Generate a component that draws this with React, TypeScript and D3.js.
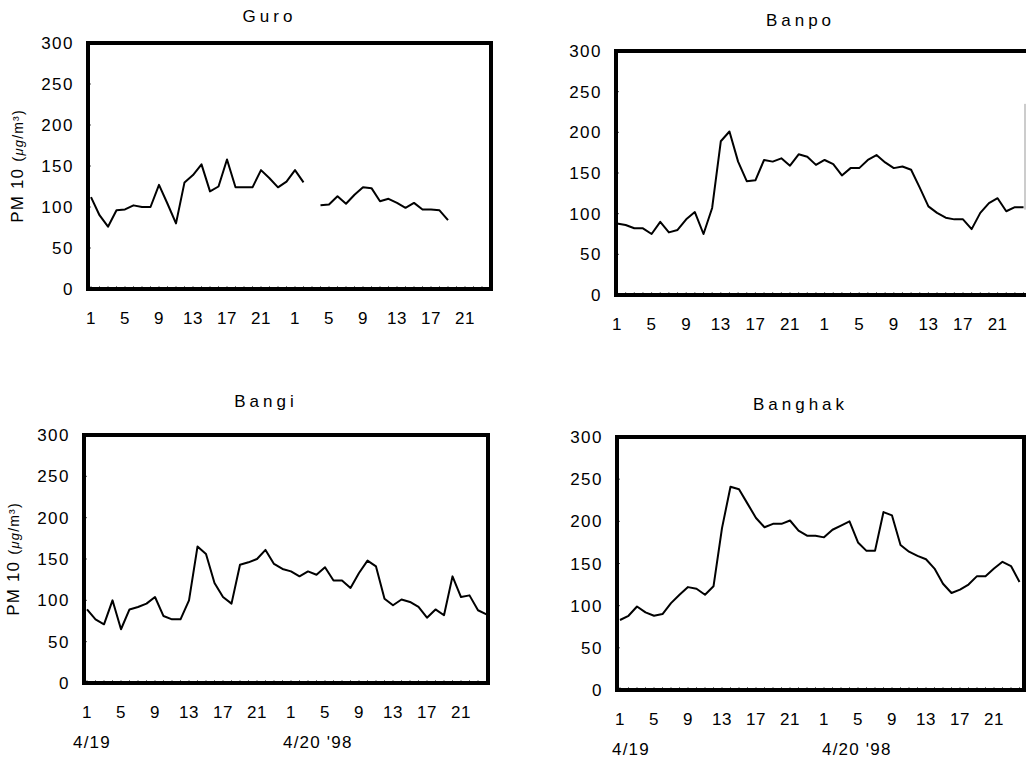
import React, { useEffect } from 'react';
import * as d3 from 'd3';

// hourly PM10, 4/19 01h .. 4/20 24h
const hourLabels = [1, 5, 9, 13, 17, 21];
const yTicks = [0, 50, 100, 150, 200, 250, 300];

const guro = [112, 90, 76, 96, 97, 102, 100, 100, 127, 104, 80, 130, 139, 152, 119, 125, 158, 124, 124, 124,
    145, 135, 124, 131, 145, 130, null, 102, 103, 113, 104, 115, 124, 123, 107, 110, 105, 99, 105, 97,
    97, 96, 84, null, null, null, null, null];
const banpo = [88, 86, 82, 82, 75, 90, 77, 80, 93, 102, 75, 107, 189, 201, 164, 140, 141, 166, 164, 168,
    159, 173, 170, 160, 166, 161, 147, 156, 156, 166, 172, 163, 156, 158, 154, 132, 109, 101, 95, 93,
    93, 81, 101, 113, 119, 103, 108, 108];
const bangi = [89, 77, 71, 100, 65, 89, 92, 96, 104, 81, 77, 77, 100, 165, 156, 121, 104, 96, 143, 146,
    150, 161, 144, 138, 135, 129, 135, 131, 140, 124, 124, 115, 133, 148, 141, 102, 94, 101, 98, 92,
    79, 89, 82, 129, 104, 106, 88, 83];
const banghak = [83, 88, 99, 92, 88, 90, 103, 113, 122, 120, 113, 123, 192, 241, 238, 221, 204, 193, 197, 197,
    201, 189, 183, 183, 181, 190, 195, 200, 175, 165, 165, 211, 207, 172, 164, 159, 155, 144, 126, 115,
    119, 125, 135, 135, 144, 152, 147, 128];

const panels = [
    { name: 'Guro', data: guro, left: 88, top: 43, right: 491, bottom: 289, x0: 91, step: 8.5, yTitle: true, dates: false, titleY: 22 },
    { name: 'Banpo', data: banpo, left: 616, top: 51, right: 1025, bottom: 295, x0: 617, step: 8.65, yTitle: false, dates: false, titleY: 26, openRight: true },
    { name: 'Bangi', data: bangi, left: 84, top: 435, right: 488, bottom: 683, x0: 87, step: 8.5, yTitle: true, dates: true, titleY: 407, dateDx: -14 },
    { name: 'Banghak', data: banghak, left: 617, top: 437, right: 1024, bottom: 690, x0: 620, step: 8.5, yTitle: false, dates: true, titleY: 410, dateDx: -8 },
];

const font = "'Liberation Sans', Arial, sans-serif";

const Panel = ({ p }) => {
    const n = p.data.length;
    const x = d3.scaleLinear().domain([0, n - 1]).range([p.x0, p.x0 + (n - 1) * p.step]);
    const y = d3.scaleLinear().domain([0, 300]).range([p.bottom, p.top]);
    const line = d3.line()
        .defined((d) => d != null)
        .x((d, i) => x(i))
        .y((d) => y(d));

    const labelIdx = [];
    for (let day = 0; day < 2; day++) hourLabels.forEach((h) => labelIdx.push({ i: day * 24 + h - 1, h }));

    const cx = (p.left + p.right) / 2;
    const cy = (p.top + p.bottom) / 2;

    return (
        <g fontFamily={font} fill="#000">
            <text x={cx - 20} y={p.titleY} textAnchor="middle" fontSize={17} letterSpacing={4}>{p.name}</text>

            {yTicks.map((t) => (
                <g key={t}>
                    <text x={p.left - 14} y={y(t)} dy="0.36em" textAnchor="end" fontSize={17} letterSpacing={1.5}>{t}</text>
                    <line x1={p.left} x2={p.left + 3} y1={y(t)} y2={y(t)} stroke="#555" strokeWidth={1} />
                </g>
            ))}

            {d3.range(n).map((i) => (
                <line key={i} x1={x(i)} x2={x(i)} y1={p.bottom} y2={p.bottom - 3} stroke="#777" strokeWidth={1} strokeDasharray="1,1" />
            ))}

            {labelIdx.map((d, k) => (
                <text key={k} x={x(d.i)} y={p.bottom + 29} dy="0.36em" textAnchor="middle" fontSize={17} letterSpacing={0.5}>{d.h}</text>
            ))}

            {p.dates && (
                <g fontSize={17} letterSpacing={1.2}>
                    <text x={x(0) + p.dateDx} y={p.bottom + 59} dy="0.36em">4/19</text>
                    <text x={x(24) + p.dateDx + 6} y={p.bottom + 59} dy="0.36em">4/20 '98</text>
                </g>
            )}

            {p.yTitle && (
                <text transform={`translate(${p.left - 71},${cy}) rotate(-90)`} textAnchor="middle" dy="0.36em" fontSize={17} letterSpacing={1.2}>
                    PM 10 <tspan fontSize={15}>(</tspan><tspan fontSize={13} fontStyle="italic">μg</tspan><tspan fontSize={14}>/m³)</tspan>
                </text>
            )}

            <path d={line(p.data)} fill="none" stroke="#000" strokeWidth={2} strokeLinejoin="round" />

            {p.openRight ? (
                <g>
                    <path d={`M${p.right + 4},${p.top} H${p.left} V${p.bottom} H${p.right + 4}`} fill="none" stroke="#000" strokeWidth={4} />
                    <line x1={p.right} x2={p.right} y1={y(235)} y2={y(105)} stroke="#999" strokeWidth={1} />
                </g>
            ) : (
                <rect x={p.left} y={p.top} width={p.right - p.left} height={p.bottom - p.top} fill="none" stroke="#000" strokeWidth={4} />
            )}
        </g>
    );
};

const App = () => {
    useEffect(() => {
        document.body.style.margin = '0';
    }, []);

    return (
        <svg width={1026} height={763} style={{ display: 'block', background: '#fff' }}>
            {panels.map((p) => <Panel key={p.name} p={p} />)}
        </svg>
    );
};

export default App;
